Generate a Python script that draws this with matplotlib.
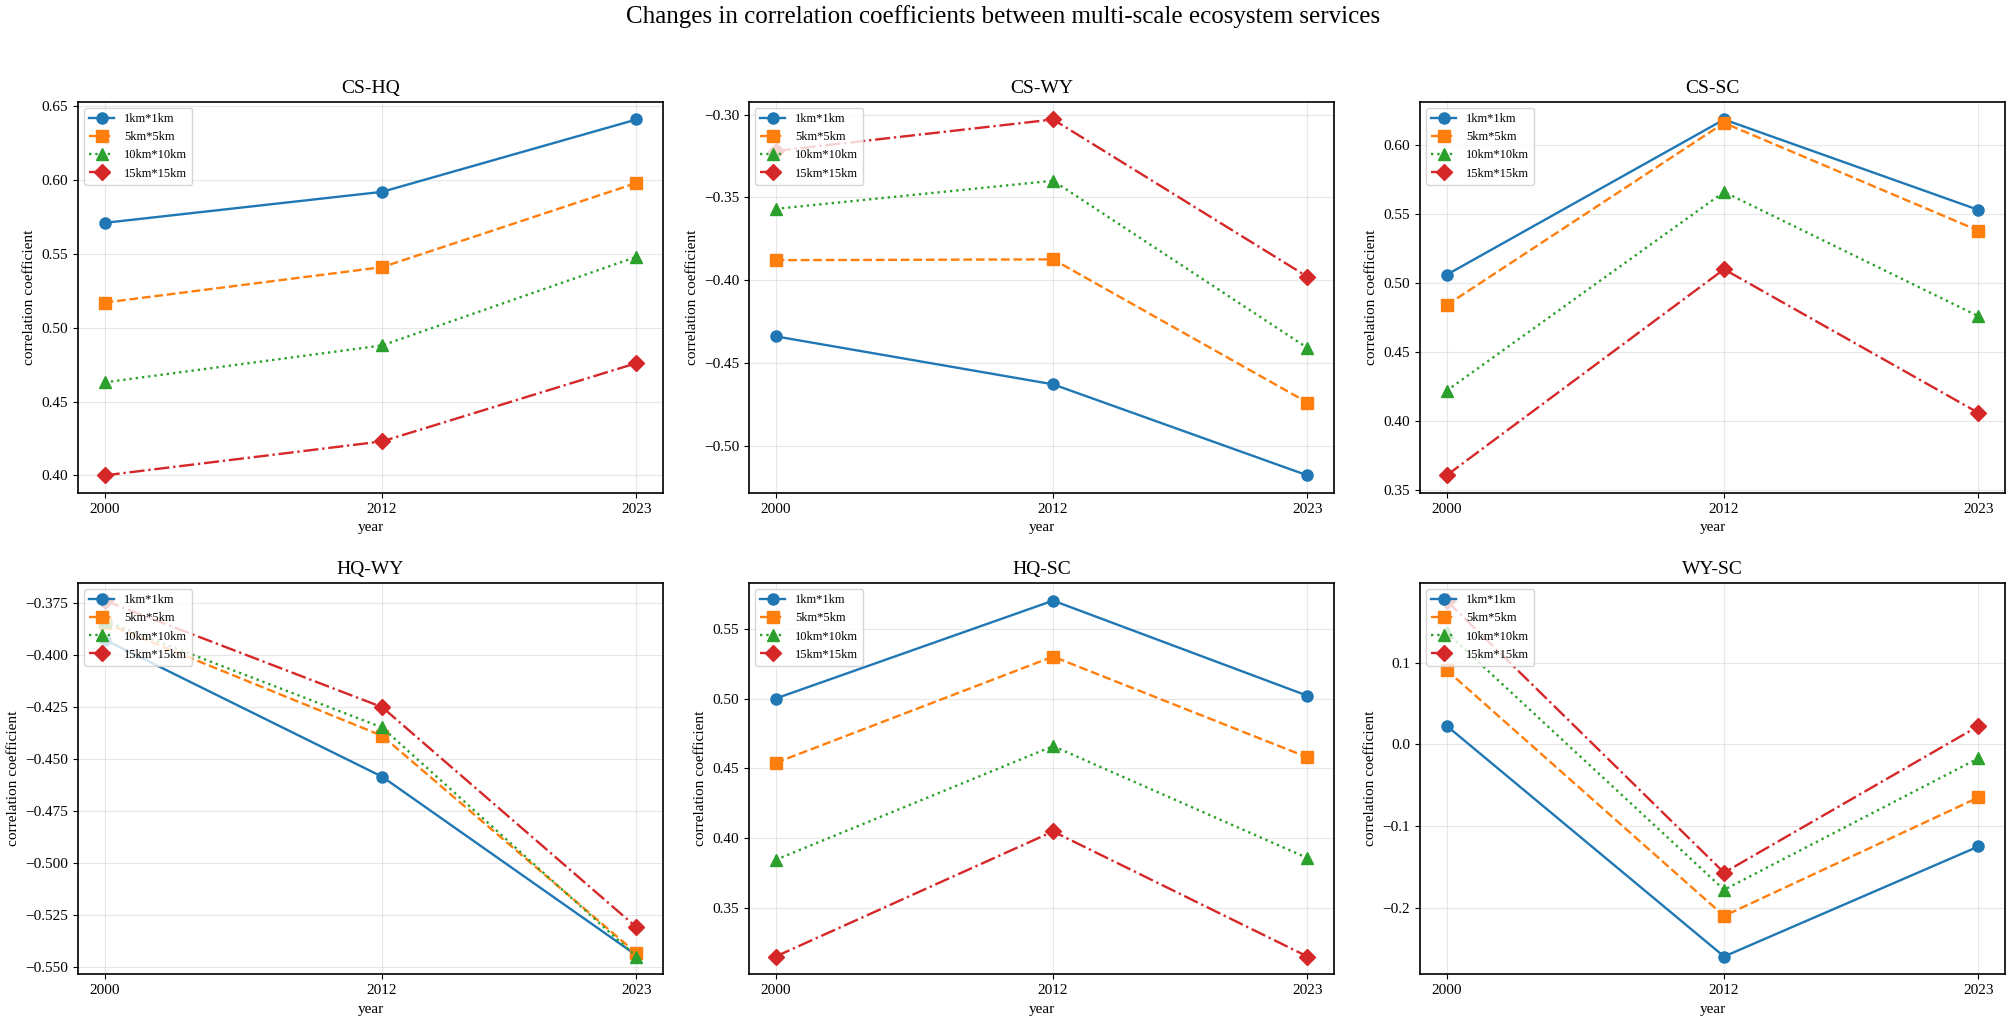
import matplotlib
matplotlib.use("Agg")
import matplotlib.pyplot as plt

plt.rcParams['font.family'] = ['Liberation Serif', 'DejaVu Serif']

years = [2000, 2012, 2023]
scales = ['1km*1km', '5km*5km', '10km*10km', '15km*15km']
panels = ['CS-HQ', 'CS-WY', 'CS-SC', 'HQ-WY', 'HQ-SC', 'WY-SC']

cs_hq = [[0.571, 0.592, 0.641],
         [0.517, 0.541, 0.598],
         [0.463, 0.488, 0.548],
         [0.400, 0.423, 0.476]]
cs_wy = [[-0.434, -0.463, -0.518],
         [-0.388, -0.3875, -0.474],
         [-0.357, -0.340, -0.441],
         [-0.322, -0.303, -0.398]]
cs_sc = [[0.506, 0.6185, 0.553],
         [0.484, 0.616, 0.538],
         [0.422, 0.566, 0.476],
         [0.3607, 0.510, 0.406]]
hq_wy = [[-0.3925, -0.4585, -0.5445],
         [-0.3845, -0.4388, -0.5435],
         [-0.3835, -0.4348, -0.5451],
         [-0.3737, -0.4250, -0.5310]]
hq_sc = [[0.500, 0.570, 0.502],
         [0.454, 0.530, 0.458],
         [0.3847, 0.466, 0.386],
         [0.3156, 0.405, 0.3156]]
wy_sc = [[0.0228, -0.2597, -0.125],
         [0.091, -0.210, -0.065],
         [0.137, -0.178, -0.017],
         [0.176, -0.157, 0.0224]]

data = [cs_hq, cs_wy, cs_sc, hq_wy, hq_sc, wy_sc]

colors = ['#1f77b4', '#ff7f0e', '#2ca02c', '#d62728']
markers = ['o', 's', '^', 'D']
linestyles = ['-', '--', ':', '-.']

fig, axes = plt.subplots(2, 3, figsize=(20.07, 10.23), dpi=100)
fig.subplots_adjust(left=0.0389, right=0.999, top=0.9006, bottom=0.0476,
                    wspace=0.147, hspace=0.229)

for ax, name, series in zip(axes.flat, panels, data):
    for vals, lab, c, m, ls in zip(series, scales, colors, markers, linestyles):
        ax.plot(years, vals, color=c, marker=m, linestyle=ls, linewidth=1.7,
                markersize=8, label=lab)
    ax.set_title(name, fontsize=14)
    ax.set_xlabel('year', fontsize=11)
    ax.set_ylabel('correlation coefficient', fontsize=11)
    ax.set_xticks(years)
    ax.set_xticklabels([str(y) for y in years])
    ax.tick_params(labelsize=11)
    ax.grid(True, alpha=0.3)
    for sp in ax.spines.values():
        sp.set_linewidth(1.2)
    ax.legend(loc='upper left', fontsize=9)

fig.suptitle('Changes in correlation coefficients between multi-scale ecosystem services',
             fontsize=18, y=0.995, va='top')

fig.savefig('out.png', dpi=100)
